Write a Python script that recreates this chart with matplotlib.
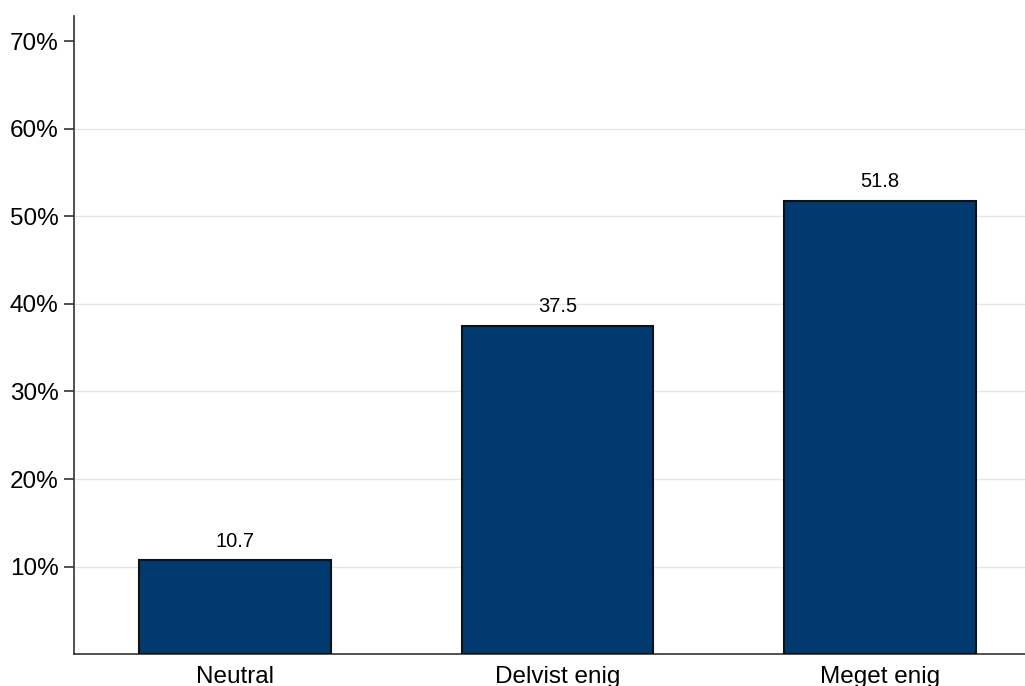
import matplotlib.pyplot as plt
from matplotlib.ticker import FuncFormatter

# Data
categories = ['Neutral', 'Delvist enig', 'Meget enig']
values = [10.7, 37.5, 51.8]
yticks = [10, 20, 30, 40, 50, 60, 70]

plt.rcParams['font.family'] = ['Liberation Sans', 'DejaVu Sans']

fig = plt.figure(figsize=(10.25, 6.86), dpi=100)
ax = fig.add_axes([0.0722, 0.0466, 0.9278, 0.930])

x = list(range(len(categories)))
bars = ax.bar(x, values, width=0.595, color='#003a6f', edgecolor='#111111', linewidth=1.5, zorder=3)

for xi, v in zip(x, values):
    ax.annotate(f'{v:.1f}', (xi, v), xytext=(0, 7), textcoords='offset points',
                ha='center', va='bottom', fontsize=14.5)

ax.set_xlim(-0.5, 2.45)
ax.set_ylim(0, 72.9)
ax.set_xticks(x)
ax.set_xticklabels(categories, fontsize=17.5)
ax.set_yticks(yticks)
ax.yaxis.set_major_formatter(FuncFormatter(lambda v, p: f'{v:.0f}%'))
ax.tick_params(axis='y', labelsize=17.5, length=7, width=1.2, color='#333333', pad=4)
ax.tick_params(axis='x', length=0, pad=8.5)

ax.grid(axis='y', color='#e6e6e6', linewidth=1, zorder=0)
ax.yaxis.get_gridlines()[-1].set_visible(False)
ax.set_axisbelow(True)

for s in ['top', 'right']:
    ax.spines[s].set_visible(False)
for s in ['left', 'bottom']:
    ax.spines[s].set_color('#333333')
    ax.spines[s].set_linewidth(1.2)

plt.savefig('out.png', dpi=100)
